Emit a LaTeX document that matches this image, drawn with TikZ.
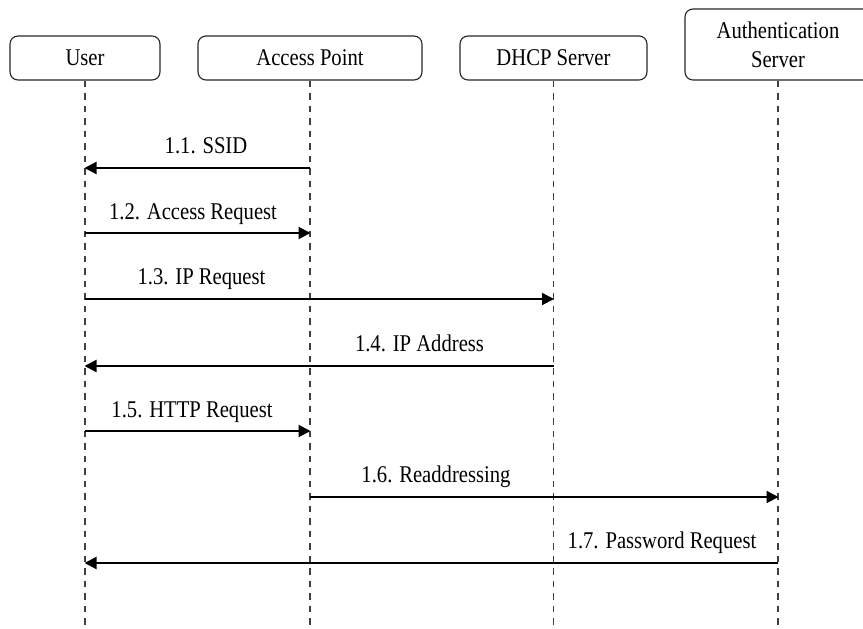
\documentclass[tikz,border=0pt]{standalone}
\usepackage{fontspec}
\setmainfont[FakeStretch=0.86]{Liberation Serif}
\usetikzlibrary{arrows.meta,calc}

\tikzset{
  actor/.style={draw=black!85, line width=1.1pt, rounded corners=8pt,
    minimum height=44pt, inner sep=2pt, align=center,
    font=\fontsize{24}{30}\selectfont},
  lifeline/.style={draw=black!75, line width=1.2pt, dash pattern=on 6.5pt off 6pt},
  msg/.style={draw=black, line width=2pt,
    -{Triangle[length=12pt,width=12pt]}, shorten >=-0.5pt},
  msglabel/.style={anchor=base, inner sep=0pt,
    font=\fontsize{24}{30}\selectfont}
}

\begin{document}
\begin{tikzpicture}[x=1pt, y=-1pt]
  \useasboundingbox (0,0) rectangle (863,629);

  % participants
  \node[actor, minimum width=150pt] (user) at (85,58) {User};
  \node[actor, minimum width=224pt] (ap)   at (310,58) {Access Point};
  \node[actor, minimum width=187pt] (dhcp) at (553.5,58) {DHCP Server};
  \node[actor, minimum width=186pt, minimum height=71pt] (auth) at (778,44.5)
    {Authentication\\[-1pt]Server};

  % lifeline ends
  \coordinate (userEnd) at (user.south |- 0,629);
  \coordinate (apEnd)   at (ap.south |- 0,629);
  \coordinate (dhcpEnd) at (dhcp.south |- 0,629);
  \coordinate (authEnd) at (auth.south |- 0,629);

  \draw[lifeline] (user.south) -- (userEnd);
  \draw[lifeline] (ap.south)   -- (apEnd);
  \draw[lifeline] (dhcp.south) -- (dhcpEnd);
  \draw[lifeline] (auth.south) -- (authEnd);

  % messages
  \draw[msg] (ap.south |- 0,168)   -- (user.south |- 0,168);
  \node[msglabel] (m1) at (206,153) {1.1. SSID};

  \draw[msg] (user.south |- 0,233) -- (ap.south |- 0,233);
  \node[msglabel] (m2) at (193,219) {1.2. Access Request};

  \draw[msg] (user.south |- 0,299) -- (dhcp.south |- 0,299);
  \node[msglabel] (m3) at (201.5,284) {1.3. IP Request};

  \draw[msg] (dhcp.south |- 0,366) -- (user.south |- 0,366);
  \node[msglabel] (m4) at (419.5,351) {1.4. IP Address};

  \draw[msg] (user.south |- 0,431) -- (ap.south |- 0,431);
  \node[msglabel] (m5) at (192,417) {1.5. HTTP Request};

  \draw[msg] (ap.south |- 0,497)   -- (auth.south |- 0,497);
  \node[msglabel] (m6) at (436,482) {1.6. Readdressing};

  \draw[msg] (auth.south |- 0,563) -- (user.south |- 0,563);
  \node[msglabel] (m7) at (662,548) {1.7. Password Request};
\end{tikzpicture}
\end{document}
